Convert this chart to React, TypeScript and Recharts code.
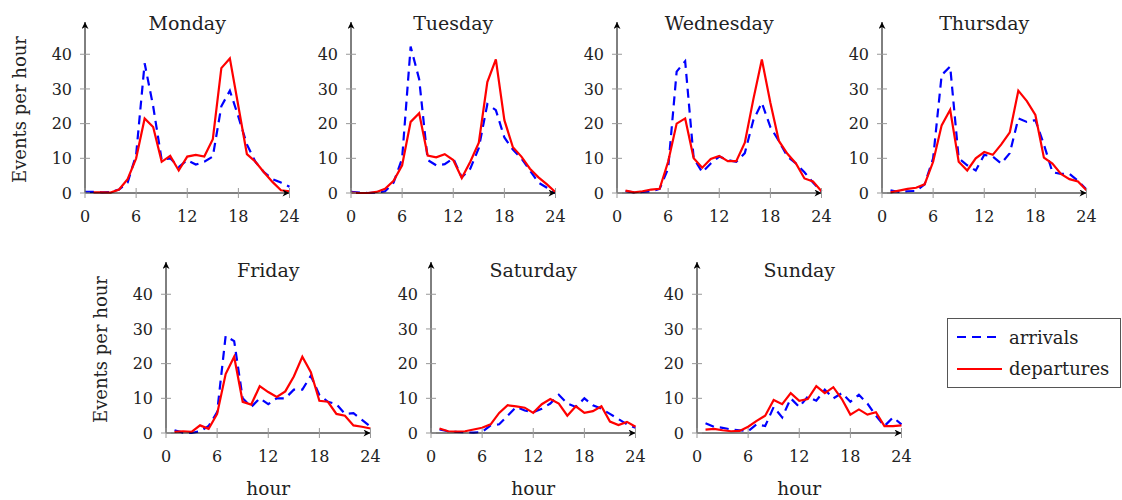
import React from "react";
import { LineChart, Line, XAxis, YAxis } from "recharts";

// hour of day, 0..24
const hours = [0, 1, 2, 3, 4, 5, 6, 7, 8, 9, 10, 11, 12, 13, 14, 15, 16, 17, 18, 19, 20, 21, 22, 23, 24];
const xTicks = [0, 6, 12, 18, 24];
const yTicks = [0, 10, 20, 30, 40];

const mondayArrivals = [0.3, 0.3, 0.2, 0.3, 1, 3, 11, 37.4, 25, 9.5, 10, 7.5, 9.5, 8.2, 9, 10.5, 25, 29.5, 22, 14, 9, 6, 4, 3, 1.8];
const mondayDepartures = [null, 0.2, 0.2, 0.1, 1, 4, 10, 21.5, 19, 9, 10.7, 6.5, 10.5, 11, 10.5, 15.5, 36, 38.8, 25, 11.2, 9, 6, 3.2, 0.8, 0.5];
const tuesdayArrivals = [0.3, 0.1, 0, 0.1, 0.5, 3, 10, 42.2, 32.8, 9.5, 8, 8.3, 10, 4.5, 7, 13, 25.6, 23.9, 16, 12.5, 10, 6.5, 3, 1.5, 0];
const tuesdayDepartures = [0.1, 0, 0, 0.3, 1.2, 3.5, 8, 20.5, 23, 10.8, 10.3, 11.2, 9.5, 4.3, 9, 14.5, 32, 38.5, 21, 13.2, 10.5, 7, 4.5, 2.5, 0.2];
const wednesdayArrivals = [null, 0.5, 0.2, 0.3, 0.5, 1.2, 7, 35, 38, 10, 6, 8.5, 10.5, 9.5, 9, 11.5, 21, 26, 19, 15, 10.5, 8.5, 6, 3, 0.5];
const wednesdayDepartures = [null, 0.7, 0.2, 0.5, 1, 1.2, 9, 20, 21.5, 10, 7.3, 9.8, 10.7, 9.2, 9.2, 14.5, 27, 38.5, 26, 15, 11.3, 8.5, 4.2, 3.3, 0.5];
const thursdayArrivals = [null, 0.8, 0.3, 0.5, 0.6, 2.5, 10, 34, 36.5, 10, 8, 6.5, 11, 10.5, 8.5, 11.5, 21.5, 20.5, 21, 14, 6, 5.5, 5.5, 3.5, 1];
const thursdayDepartures = [null, 0.2, 0.7, 1.2, 1.5, 2.5, 9, 19.5, 24, 9, 6.5, 10, 11.8, 11, 14, 17.5, 29.5, 26.5, 22.5, 10.2, 8.5, 5.5, 4, 3.3, 0.8];
const fridayArrivals = [null, 0.8, 0.1, 0, 0.5, 2, 6, 28, 26.5, 10, 7.5, 10, 8.3, 10, 10, 12.5, 12.5, 16.5, 11, 9, 8.3, 5.5, 5.7, 3.8, 1.8];
const fridayDepartures = [null, 0.3, 0.5, 0.3, 2.2, 1.2, 5.5, 17, 22, 9, 8.2, 13.5, 11.8, 10.4, 12, 16.3, 22, 17.5, 9.3, 9, 5.5, 5, 2.2, 1.8, 1.3];
const saturdayArrivals = [null, 1, 0.5, 0.3, 0.2, 0.1, 0.3, 2.2, 2.5, 5, 7.5, 6.5, 6, 7, 8.5, 11, 8.5, 7.5, 10, 8, 7, 5.5, 4, 2.5, 1.5];
const saturdayDepartures = [null, 1.3, 0.5, 0.4, 0.5, 1, 1.5, 2.5, 5.8, 8, 7.7, 7.3, 5.8, 8.3, 9.8, 8.5, 5, 7.7, 5.8, 6.3, 7.7, 3.3, 2.3, 3.2, 1.8];
const sundayArrivals = [null, 2.8, 1.8, 1.5, 1, 0.8, 0.5, 2.5, 2, 7.5, 4.5, 10, 7.5, 10.5, 9.3, 12.5, 10, 11.5, 9, 11, 8.5, 5, 2, 4.5, 2.5];
const sundayDepartures = [null, 1, 1.2, 0.8, 0.5, 0.6, 1.8, 3.5, 5, 9.5, 8.3, 11.5, 9.3, 9.8, 13.5, 11.5, 13.2, 9.8, 5.3, 6.8, 5.3, 6, 2, 2, 2.2];

const FONT = "'DejaVu Serif', serif";
const TEXT = "#222";
const PLOT_W = 204.5;
const PLOT_H = 171;
const Y_AXIS_W = 90;
const TOP = 22;

const rows = (arr: (number | null)[], dep: (number | null)[]) =>
  hours.map((h, i) => ({ hour: h, arrivals: arr[i], departures: dep[i] }));

const XTick = (props: any) => {
  const { x, y, payload } = props;
  return (
    <g>
      <line x1={x} x2={x} y1={y - 5} y2={y + 5} stroke="#999" strokeWidth={1} />
      <text x={x} y={y + 28.5} textAnchor="middle" fontFamily={FONT} fontSize={16} fill={TEXT}>
        {payload.value}
      </text>
    </g>
  );
};

const YTick = (props: any) => {
  const { x, y, payload } = props;
  return (
    <g>
      <line x1={x - 5} x2={x + 5} y1={y} y2={y} stroke="#999" strokeWidth={1} />
      <text x={x - 13} y={y + 5.8} textAnchor="end" fontFamily={FONT} fontSize={16} fill={TEXT}>
        {payload.value}
      </text>
    </g>
  );
};

function DayChart({ id, title, data, left, top, yLabel, xLabel, titleOffset }: any) {
  return (
    <div style={{ position: "absolute", left: left - Y_AXIS_W, top }}>
      <LineChart
        width={Y_AXIS_W + PLOT_W + 15}
        height={TOP + PLOT_H + 70}
        data={data}
        margin={{ top: TOP, right: 15, bottom: 0, left: 0 }}
      >
        <defs>
          <marker
            id={`arrow-${id}`}
            viewBox="0 0 10 10"
            refX="10"
            refY="5"
            markerWidth="8"
            markerHeight="7"
            markerUnits="userSpaceOnUse"
            orient="auto-start-reverse"
          >
            <path d="M0,0 L10,5 L0,10 L3,5 z" fill="#000" />
          </marker>
        </defs>
        <XAxis
          dataKey="hour"
          type="number"
          domain={[0, 24]}
          ticks={xTicks}
          height={70}
          tickLine={false}
          tickSize={0}
          tickMargin={0}
          tick={<XTick />}
          axisLine={{ stroke: "#000", strokeWidth: 1, markerEnd: `url(#arrow-${id})` }}
          label={
            xLabel
              ? {
                  content: (p: any) => (
                    <text
                      x={p.viewBox.x + p.viewBox.width / 2}
                      y={p.viewBox.y + 62}
                      textAnchor="middle"
                      fontFamily={FONT}
                      fontSize={18.5}
                      fill={TEXT}
                    >
                      {xLabel}
                    </text>
                  ),
                }
              : undefined
          }
        />
        <YAxis
          type="number"
          domain={[0, 49.3]}
          ticks={yTicks}
          width={Y_AXIS_W}
          tickLine={false}
          tickSize={0}
          tickMargin={0}
          tick={<YTick />}
          axisLine={{ stroke: "#000", strokeWidth: 1, markerStart: `url(#arrow-${id})` }}
          label={
            yLabel
              ? {
                  content: (p: any) => {
                    const cx = p.viewBox.x + Y_AXIS_W - 59.5;
                    const cy = p.viewBox.y + p.viewBox.height / 2 + 2;
                    return (
                      <text
                        x={cx}
                        y={cy}
                        transform={`rotate(-90 ${cx} ${cy})`}
                        textAnchor="middle"
                        fontFamily={FONT}
                        fontSize={18}
                        fill={TEXT}
                      >
                        {yLabel}
                      </text>
                    );
                  },
                }
              : undefined
          }
        />
        <Line
          dataKey="arrivals"
          stroke="#0000ff"
          strokeWidth={2.2}
          strokeDasharray="9 6"
          dot={false}
          isAnimationActive={false}
        />
        <Line
          dataKey="departures"
          stroke="#ff0000"
          strokeWidth={2.2}
          dot={false}
          isAnimationActive={false}
        />
        <text
          x={Y_AXIS_W + PLOT_W / 2}
          y={TOP + titleOffset}
          textAnchor="middle"
          fontFamily={FONT}
          fontSize={19}
          fill={TEXT}
        >
          {title}
        </text>
      </LineChart>
    </div>
  );
}

const days = [
  { id: "mon", title: "Monday", data: rows(mondayArrivals, mondayDepartures), left: 84.5, top: 0, yLabel: "Events per hour", titleOffset: 8 },
  { id: "tue", title: "Tuesday", data: rows(tuesdayArrivals, tuesdayDepartures), left: 350.5, top: 0, titleOffset: 8 },
  { id: "wed", title: "Wednesday", data: rows(wednesdayArrivals, wednesdayDepartures), left: 616.5, top: 0, titleOffset: 8 },
  { id: "thu", title: "Thursday", data: rows(thursdayArrivals, thursdayDepartures), left: 882, top: 0, titleOffset: 8 },
  { id: "fri", title: "Friday", data: rows(fridayArrivals, fridayDepartures), left: 165.5, top: 239.7, yLabel: "Events per hour", xLabel: "hour", titleOffset: 15 },
  { id: "sat", title: "Saturday", data: rows(saturdayArrivals, saturdayDepartures), left: 431, top: 239.7, xLabel: "hour", titleOffset: 15 },
  { id: "sun", title: "Sunday", data: rows(sundayArrivals, sundayDepartures), left: 696.5, top: 239.7, xLabel: "hour", titleOffset: 15 },
];

const series = [
  { name: "arrivals", color: "#0000ff", dash: "9 6" },
  { name: "departures", color: "#ff0000", dash: undefined },
];

export default function App() {
  return (
    <div style={{ position: "absolute", left: 0, top: 0, width: 1122, height: 500, background: "#fff", overflow: "hidden" }}>
      {days.map((d) => (
        <DayChart key={d.id} {...d} />
      ))}
      <div
        style={{
          position: "absolute",
          left: 947,
          top: 318,
          width: 172,
          height: 68,
          border: "1px solid #555",
          fontFamily: FONT,
          fontSize: 18,
          color: TEXT,
        }}
      >
        {series.map((s, i) => (
          <div key={s.name} style={{ position: "absolute", left: 9, top: 6 + i * 31.5, height: 24, display: "flex", alignItems: "center" }}>
            <svg width={46} height={10} style={{ marginRight: 6 }}>
              <line x1={0} x2={45} y1={5} y2={5} stroke={s.color} strokeWidth={2.2} strokeDasharray={s.dash} />
            </svg>
            <span>{s.name}</span>
          </div>
        ))}
      </div>
    </div>
  );
}
